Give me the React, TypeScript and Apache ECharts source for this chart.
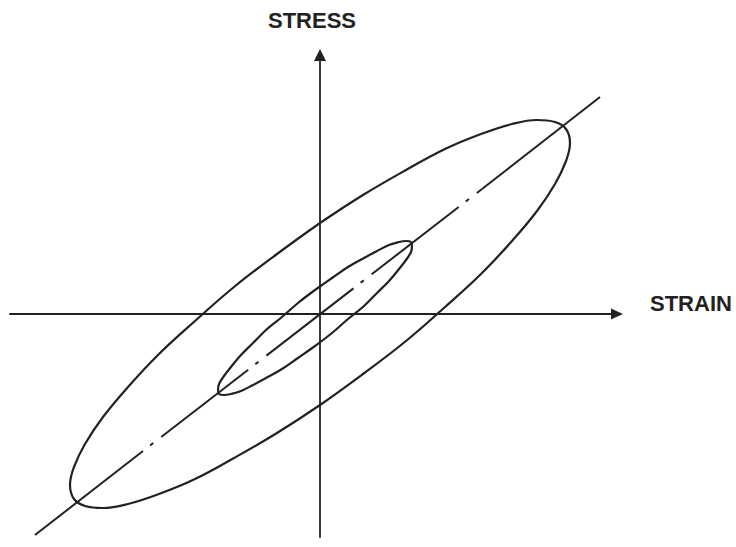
import React, { useEffect, useRef } from "react";
import * as echarts from "echarts";

// Large hysteresis loop (strain, stress), traced once round the loop
const outerLoopStrain = [0, 43, 86, 125, 161, 192, 217, 235, 246, 250, 246, 235, 217, 192, 161, 125, 86, 43, 0, -43, -86, -125, -161, -192, -217, -235, -246, -250, -246, -235, -217, -192, -161, -125, -86, -43, 0];
const outerLoopStress = [91, 119, 144, 165, 180, 190, 194, 192, 185, 171, 153, 130, 103, 73, 40, 7, -27, -60, -91, -119, -144, -165, -180, -190, -194, -192, -185, -171, -153, -130, -103, -73, -40, -7, 27, 60, 91];

// Small hysteresis loop
const innerLoopStrain = [-5, 12, 28, 44, 57, 69, 79, 86, 91, 92, 91, 86, 79, 69, 57, 44, 28, 12, -5, -22, -38, -54, -67, -79, -89, -96, -101, -102, -101, -96, -89, -79, -67, -54, -38, -22, -5];
const innerLoopStress = [24, 36, 47, 56, 63, 69, 72, 73, 72, 68, 62, 54, 45, 33, 21, 8, -5, -19, -32, -44, -55, -64, -71, -77, -80, -81, -80, -76, -70, -62, -53, -41, -29, -16, -3, 11, 24];

// Centre line of the loops: solid ends, chain-dotted middle
const centreLineLower = [[-285, -221], [-177, -137]];
const centreLineMiddle = [[-177, -137], [162, 125]];
const centreLineUpper = [[162, 125], [280, 217]];

const xAxisName = "STRAIN";
const yAxisName = "STRESS";

const INK = "#222222";
const FONT = "'Liberation Sans', Arial, sans-serif";

const zip = (xs: number[], ys: number[]) => xs.map((x, i) => [x, ys[i]]);

export default function App() {
  const ref = useRef<HTMLDivElement>(null);

  useEffect(() => {
    if (!ref.current) return;
    const chart = echarts.init(ref.current, undefined, { renderer: "svg" });

    const lineBase = {
      type: "line" as const,
      showSymbol: false,
      symbol: "none",
      silent: true,
    };

    chart.setOption({
      animation: false,
      backgroundColor: "#ffffff",
      grid: { left: 10, right: 119, top: 55, bottom: 10, containLabel: false },
      xAxis: {
        type: "value",
        min: -310,
        max: 297,
        name: xAxisName,
        nameLocation: "end",
        nameGap: 33,
        nameTextStyle: {
          color: INK,
          fontFamily: FONT,
          fontSize: 22,
          fontWeight: "bold",
          verticalAlign: "bottom",
          lineHeight: 22,
        },
        axisLine: {
          onZero: true,
          symbol: ["none", "triangle"],
          symbolSize: [11, 12],
          lineStyle: { color: INK, width: 1.8 },
        },
        axisTick: { show: false },
        axisLabel: { show: false },
        splitLine: { show: false },
      },
      yAxis: {
        type: "value",
        min: -223,
        max: 259,
        name: yAxisName,
        nameLocation: "end",
        nameGap: 24,
        nameTextStyle: {
          color: INK,
          fontFamily: FONT,
          fontSize: 22,
          fontWeight: "bold",
          padding: [0, 16, 0, 0],
        },
        axisLine: {
          onZero: true,
          symbol: ["none", "triangle"],
          symbolSize: [12, 12],
          lineStyle: { color: INK, width: 1.8 },
        },
        axisTick: { show: false },
        axisLabel: { show: false },
        splitLine: { show: false },
      },
      series: [
        {
          ...lineBase,
          name: "outer loop",
          smooth: 0.4,
          data: zip(outerLoopStrain, outerLoopStress),
          lineStyle: { color: INK, width: 2.2 },
        },
        {
          ...lineBase,
          name: "inner loop",
          smooth: 0.4,
          data: zip(innerLoopStrain, innerLoopStress),
          lineStyle: { color: INK, width: 2.2 },
        },
        {
          ...lineBase,
          name: "centre line lower",
          data: centreLineLower,
          lineStyle: { color: INK, width: 2 },
        },
        {
          ...lineBase,
          name: "centre line middle",
          data: centreLineMiddle,
          lineStyle: {
            color: INK,
            width: 2,
            type: [110, 9, 4, 10],
            dashOffset: 110,
          },
        },
        {
          ...lineBase,
          name: "centre line upper",
          data: centreLineUpper,
          lineStyle: { color: INK, width: 2 },
        },
      ],
    });

    return () => {
      chart.dispose();
    };
  }, []);

  return (
    <div
      ref={ref}
      style={{ position: "absolute", left: 0, top: 0, width: 736, height: 547 }}
    />
  );
}
